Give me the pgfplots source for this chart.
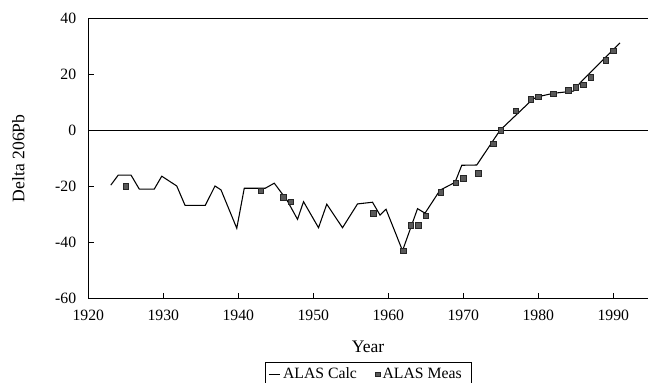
\documentclass[border=0pt]{standalone}
\usepackage{fontspec}
\setmainfont{Liberation Serif}
\usepackage{pgfplots}
\pgfplotsset{compat=1.18}
\pgfplotsset{
  lineleg/.style={legend image code/.code={\draw[##1] (0cm,0cm) -- (0.3cm,0cm);}},
  markleg/.style={legend image code/.code={\draw[##1, mark size=1.6pt] plot coordinates {(0.2cm,0cm)};}},
}
\begin{document}
\begin{tikzpicture}
\begin{axis}[
  at={(0pt,0pt)}, anchor=south west,
  scale only axis, width=419.8pt, height=210pt,
  xmin=1920, xmax=1994.63, ymin=-60, ymax=40,
  axis x line*=box, axis y line*=left,
  xtick={1920,1930,...,1990}, ytick={-60,-40,...,40},
  xtick pos=lower, ytick pos=left, tick align=inside,
  major tick length=4pt,
  axis line style={line width=0.6pt},
  tick style={line width=0.5pt, black},
  /pgf/number format/assume math mode=true,
  /pgf/number format/1000 sep={},
  tick label style={font=\fontsize{11.8}{13}\selectfont},
  xticklabel style={yshift=-5.5pt},
  yticklabel style={xshift=-5.5pt},
  xlabel={Year}, ylabel={Delta 206Pb},
  label style={font=\fontsize{13.2}{15}\selectfont},
  xlabel style={at={(axis description cs:0.5,-0.173)}, anchor=center},
  ylabel style={at={(axis description cs:-0.1248,0.5)}, anchor=center},
  legend columns=2,
  legend style={at={(0.5,-0.2275)}, anchor=north, draw=black, line width=0.5pt,
    font=\fontsize{11.8}{13}\selectfont, inner sep=2pt,
    /tikz/every even column/.append style={column sep=12pt}},
  clip=false,
]
\draw[black, line width=0.6pt] (axis cs:1920,0) -- (axis cs:1994.63,0);
\addplot[black, line width=0.8pt, mark=none, lineleg] coordinates {
(1923,-19.6)(1924,-16)(1925.7,-16)(1926.8,-21)(1928.8,-21)(1929.8,-16.4)
(1931.8,-19.9)(1932.9,-26.8)(1935.6,-26.8)(1936.9,-19.9)(1937.7,-21.3)
(1939.8,-35)(1940.8,-20.7)(1943.6,-20.7)(1944.8,-18.9)(1946.5,-25)
(1947.9,-31.8)(1948.7,-25.5)(1950.7,-34.8)(1951.8,-26.4)(1953.9,-34.8)
(1955.9,-26.3)(1957.9,-25.7)(1958.9,-30.3)(1959.7,-28.2)(1961.9,-43)
(1963.9,-28)(1964.9,-29.6)(1966.9,-21.4)(1968.9,-18.6)(1969.8,-12.5)
(1971.8,-12.4)(1974.9,0)(1979.3,11.2)(1980,12)(1982,13.2)(1984.7,14)
(1985.6,17)(1990.9,31.2)
};
\addlegendentry{ALAS Calc}
\addplot[only marks, mark=square*, mark size=2.05pt, draw=black!85, fill=black!65, line width=0.5pt, markleg] coordinates {
(1925,-20)(1943,-21.7)(1946,-23.9)(1947,-25.6)(1958,-29.6)(1962,-43)
(1963,-34)(1964,-34)(1965,-30.5)(1967,-22.1)(1969,-18.8)(1970,-17.2)
(1972,-15.4)(1974,-4.8)(1975,0)(1977,7)(1979,11)(1980,12)(1982,13)
(1984,14.3)(1985,15.4)(1986,16.2)(1987,18.9)(1989,24.9)(1990,28.3)
};
\addlegendentry{ALAS Meas\rule{3pt}{0pt}}
\end{axis}
\pgfresetboundingbox
\useasboundingbox (-66.2pt,-63.5pt) rectangle (419.8pt,223.7pt);
\end{tikzpicture}
\end{document}
